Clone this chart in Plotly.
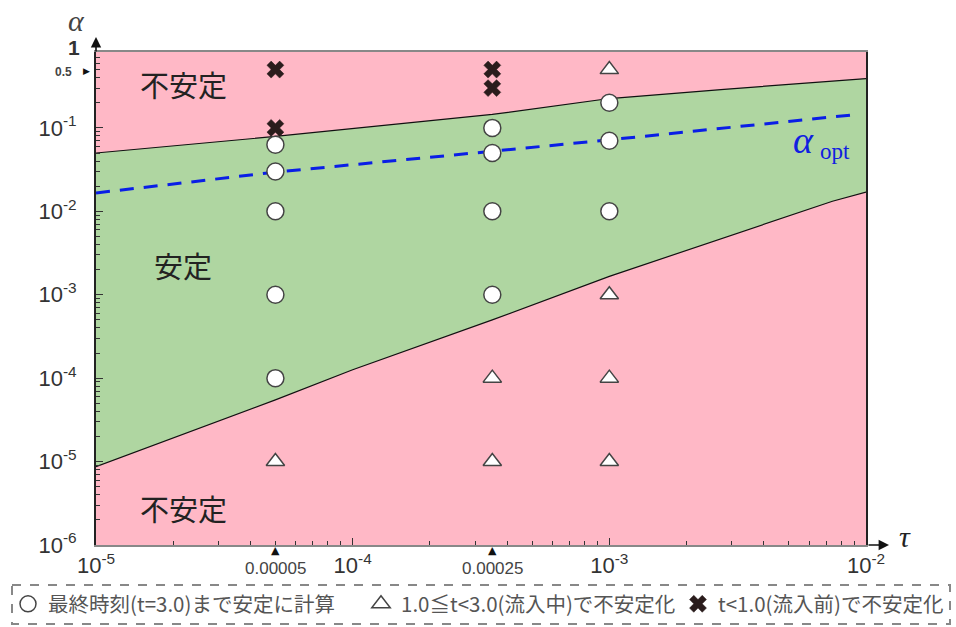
import math
import plotly.graph_objects as go

# ---------------- data ----------------
# stability boundaries (tau, alpha)
LOWER_TAU = [1e-5, 5e-5, 1e-4, 3.5e-4, 1e-3, 4.2e-3, 7.4e-3, 1e-2]
LOWER_ALPHA = [8.7e-6, 5.5e-5, 1.26e-4, 5.0e-4, 1.66e-3, 7.4e-3, 1.32e-2, 1.7e-2]
UPPER_TAU = [1e-5, 5e-5, 3.5e-4, 1e-3, 2.8e-3, 1e-2]
UPPER_ALPHA = [0.050, 0.079, 0.145, 0.225, 0.29, 0.39]
OPT_TAU = [1e-5, 5e-5, 3.5e-4, 1e-3, 9.2e-3]
OPT_ALPHA = [0.0166, 0.0295, 0.0525, 0.072, 0.145]

# computed cases
STABLE_TAU = [5e-5, 5e-5, 5e-5, 5e-5, 5e-5, 3.5e-4, 3.5e-4, 3.5e-4, 3.5e-4, 1e-3, 1e-3, 1e-3]
STABLE_ALPHA = [0.063, 0.03, 0.01, 1e-3, 1e-4, 0.1, 0.05, 0.01, 1e-3, 0.2, 0.07, 0.01]
DURING_TAU = [5e-5, 3.5e-4, 3.5e-4, 1e-3, 1e-3, 1e-3, 1e-3]
DURING_ALPHA = [1e-5, 1e-4, 1e-5, 0.5, 1e-3, 1e-4, 1e-5]
BEFORE_TAU = [5e-5, 5e-5, 3.5e-4, 3.5e-4, 1e-3]
BEFORE_ALPHA = [0.5, 0.1, 0.5, 0.3, 0.83]

X_TICKS = [1e-5, 1e-4, 1e-3, 1e-2]
X_TICKTEXT = ["10<sup>-5</sup>", "10<sup>-4</sup>", "10<sup>-3</sup>", "10<sup>-2</sup>"]
Y_TICKS = [1e-6, 1e-5, 1e-4, 1e-3, 1e-2, 1e-1]
Y_TICKTEXT = ["10<sup>-6</sup>", "10<sup>-5</sup>", "10<sup>-4</sup>", "10<sup>-3</sup>", "10<sup>-2</sup>", "10<sup>-1</sup>"]
SPECIAL_TAU = [5e-5, 3.5e-4]
SPECIAL_TAU_TEXT = ["0.00005", "0.00025"]

LEGEND_NAMES = ["最終時刻(t=3.0)まで安定に計算",
                "1.0≦t&lt;3.0(流入中)で不安定化",
                "t&lt;1.0(流入前)で不安定化"]

PINK = "#FFB8C6"
GREEN = "#AFD6A1"

# ---------------- layout geometry ----------------
W, H = 956, 627
ML, MR, MT, MB = 96, 90, 52, 82
PW, PH = W - ML - MR, H - MT - MB


def xp(px):
    return (px - ML) / PW


def yp(py):
    return (H - MB - py) / PH


fig = go.Figure()

fig.add_trace(go.Scatter(x=LOWER_TAU, y=LOWER_ALPHA, mode="lines",
                         line=dict(color="#111", width=1.2), showlegend=False, hoverinfo="skip"))
fig.add_trace(go.Scatter(x=UPPER_TAU, y=UPPER_ALPHA, mode="lines", fill="tonexty",
                         fillcolor=GREEN, line=dict(color="#111", width=1.2),
                         showlegend=False, hoverinfo="skip"))
fig.add_trace(go.Scatter(x=OPT_TAU, y=OPT_ALPHA, mode="lines",
                         line=dict(color="#0A1EE6", width=3, dash="14px,10px"),
                         showlegend=False, hoverinfo="skip"))

fig.add_trace(go.Scatter(x=DURING_TAU, y=DURING_ALPHA, mode="markers", name=LEGEND_NAMES[1],
                         legend="legend2", cliponaxis=False,
                         marker=dict(symbol="triangle-up", size=16, color="white",
                                     line=dict(color="#444", width=1.5))))
fig.add_trace(go.Scatter(x=BEFORE_TAU, y=BEFORE_ALPHA, mode="markers", name=LEGEND_NAMES[2],
                         legend="legend3", cliponaxis=False,
                         marker=dict(symbol="x", size=15, color="#2a1c1c",
                                     line=dict(color="#2a1c1c", width=0.5))))
fig.add_trace(go.Scatter(x=STABLE_TAU, y=STABLE_ALPHA, mode="markers", name=LEGEND_NAMES[0],
                         legend="legend", cliponaxis=False,
                         marker=dict(symbol="circle", size=17, color="white",
                                     line=dict(color="#444", width=1.5))))

tickfont = dict(family="Liberation Sans, Arial, sans-serif", size=22, color="#333")
fig.update_xaxes(type="log", range=[-5, -2], showline=True, linecolor="#888", linewidth=2,
                 mirror=True, showgrid=False, zeroline=False, automargin=False,
                 tickmode="array", tickvals=X_TICKS, ticktext=X_TICKTEXT,
                 ticks="inside", ticklen=7, tickcolor="#333", tickwidth=1,
                 tickfont=tickfont,
                 minor=dict(ticks="inside", ticklen=4, tickcolor="#333", dtick="D1", showgrid=False))
fig.update_yaxes(type="log", range=[-6, -0.09], showline=True, linecolor="#222", linewidth=2,
                 mirror=True, showgrid=False, zeroline=False, automargin=False,
                 tickmode="array", tickvals=Y_TICKS, ticktext=Y_TICKTEXT,
                 ticks="inside", ticklen=7, tickcolor="#333", tickwidth=1,
                 tickfont=tickfont, ticklabelstandoff=13,
                 minor=dict(ticks="inside", ticklen=4, tickcolor="#333", dtick="D1", showgrid=False))

ann = []
jp = "Noto Sans CJK JP"


def label(text, px, py, font, xref="paper", xval=None):
    ann.append(dict(text=text, x=xp(px) if xval is None else xval, y=yp(py),
                    xref=xref, yref="paper", showarrow=False,
                    xanchor="center", yanchor="middle", font=font))


# region labels
for txt, py in [("不安定", 84), ("安定", 265), ("不安定", 508)]:
    label(txt, 183, py, dict(family=jp, size=29, color="#222"))
# alpha_opt label
label("<i>α</i>", 803, 140, dict(family="Liberation Serif, serif", size=38, color="#1020E0"))
label("opt", 835, 151, dict(family="Liberation Serif, serif", size=23, color="#1020E0"))
# axis names
label("<i>α</i>", 76, 20, dict(family="Liberation Serif, serif", size=30, color="#444"))
label("<i>τ</i>", 905, 536, dict(family="Liberation Serif, serif", size=30, color="#222"))
# extra y labels
label("<b>1</b>", 74, 48, dict(family="Liberation Sans, Arial", size=21, color="#333"))
label("<b>0.5</b>", 63, 72, dict(family="Liberation Sans, Arial", size=12, color="#444"))
label("▶", 86, 71, dict(family="DejaVu Sans", size=9, color="#111"))
# special tau labels with pointers
for tv, tt in zip(SPECIAL_TAU, SPECIAL_TAU_TEXT):
    label(tt, 0, 568, dict(family="Liberation Sans, Arial", size=17, color="#444"),
          xref="x", xval=math.log10(tv))
    label("▲", 0, 550, dict(family="DejaVu Sans", size=11, color="#111"),
          xref="x", xval=math.log10(tv))
# axis arrows
ann.append(dict(text="", x=0, y=yp(37), xref="paper", yref="paper", showarrow=True,
                ax=0, ay=16, arrowhead=2, arrowsize=1.3, arrowwidth=1.6, arrowcolor="#111"))
ann.append(dict(text="", x=xp(889), y=0, xref="paper", yref="paper", showarrow=True,
                ax=-22, ay=0, arrowhead=2, arrowsize=1.3, arrowwidth=1.6, arrowcolor="#111"))

legfont = dict(family=jp, size=20.5, color="#555")


def leg(px):
    return dict(orientation="h", x=xp(px), xanchor="left", y=yp(604), yanchor="middle",
                font=legfont, bgcolor="rgba(0,0,0,0)", itemsizing="trace")


fig.update_layout(
    width=W, height=H, margin=dict(l=ML, r=MR, t=MT, b=MB, autoexpand=False),
    paper_bgcolor="white", plot_bgcolor=PINK,
    annotations=ann,
    shapes=[dict(type="rect", xref="paper", yref="paper", x0=xp(12), x1=xp(950),
                 y0=yp(585), y1=yp(624), line=dict(color="#888", width=2, dash="dash"))],
    legend=leg(8), legend2=leg(361), legend3=leg(678),
)

fig.write_html("out.html", config={"displayModeBar": False},
               post_script="document.body.style.margin='0';")
